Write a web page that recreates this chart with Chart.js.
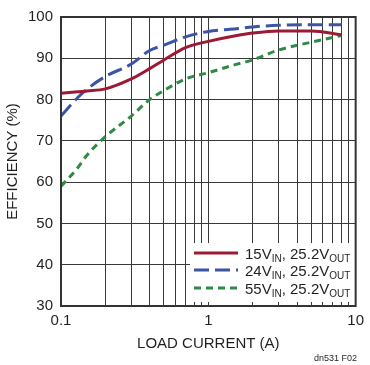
<!DOCTYPE html>
<html>
<head>
<meta charset="utf-8">
<script src="https://cdn.jsdelivr.net/npm/chart.js@4/dist/chart.umd.min.js"></script>
<style>
  html, body { margin: 0; padding: 0; background: #fff; }
  #wrap { width: 370px; height: 365px; }
</style>
</head>
<body>
<div id="wrap"><canvas id="chart" width="370" height="365"></canvas></div>
<script>
// Load current (A) sample points
var loadCurrent = [0.1, 0.13, 0.15, 0.2, 0.3, 0.4, 0.5, 0.7, 1, 1.5, 2, 3, 5, 8];

// Efficiency (%) per input voltage
var eff15V = [81.5, 81.9, 82.1, 82.6, 85.0, 87.5, 89.6, 92.6, 94.1, 95.4, 96.1, 96.6, 96.6, 95.7];
var eff24V = [76.0, 80.5, 82.5, 85.6, 88.6, 91.9, 93.2, 95.2, 96.5, 97.1, 97.6, 98.0, 98.1, 98.1];
var eff55V = [59.0, 63.5, 66.5, 71.0, 76.0, 80.0, 82.2, 85.0, 86.5, 88.4, 89.6, 92.0, 93.9, 95.5];

// Axis ticks
var xGridValues = [0.1, 0.2, 0.3, 0.4, 0.5, 0.6, 0.7, 0.8, 0.9, 1, 2, 3, 4, 5, 6, 7, 8, 9, 10];
var xLabelValues = [0.1, 1, 10];
var yTicks = [30, 40, 50, 60, 70, 80, 90, 100];

var seriesNames = ['15V', '24V', '55V'];
var seriesColors = ['#9c1a33', '#3a55a4', '#2f8a45'];
var seriesDashes = [[], [15, 6], [7, 5]];

var FONT = "'Liberation Sans Narrow', 'Liberation Sans', Arial, sans-serif";
var INK = '#231f20';

function toPoints(vals) {
    return loadCurrent.map(function(x, i) { return { x: x, y: vals[i] }; });
}

// White legend box with subscripted labels, sitting over the grid
var legendPlugin = {
    id: 'ltLegend',
    beforeDatasetsDraw: function(chart) {
        var ctx = chart.ctx;
        var a = chart.chartArea;
        ctx.save();
        ctx.fillStyle = '#fff';
        ctx.fillRect(a.left + 129, a.bottom - 63, a.right - a.left - 129, 59);

        var rowY = [a.bottom - 53, a.bottom - 36, a.bottom - 18];
        for (var i = 0; i < 3; i++) {
            var y = rowY[i];
            ctx.strokeStyle = seriesColors[i];
            ctx.lineWidth = 3;
            ctx.setLineDash(seriesDashes[i]);
            ctx.beginPath();
            ctx.moveTo(a.left + 133, y);
            ctx.lineTo(a.left + 177, y);
            ctx.stroke();
            ctx.setLineDash([]);

            ctx.fillStyle = INK;
            ctx.textBaseline = 'alphabetic';
            ctx.textAlign = 'left';
            var tx = a.left + 184;
            var base = y + 6;
            var parts = [
                [seriesNames[i], 15, 0],
                ['IN', 10, 3],
                [', 25.2V', 15, 0],
                ['OUT', 10, 3]
            ];
            parts.forEach(function(p) {
                ctx.font = p[1] + 'px ' + FONT;
                ctx.fillText(p[0], tx, base + p[2]);
                tx += ctx.measureText(p[0]).width;
            });
        }
        ctx.restore();
    },
    afterDraw: function(chart) {
        var ctx = chart.ctx;
        var a = chart.chartArea;
        ctx.save();
        ctx.strokeStyle = '#333';
        ctx.lineWidth = 2;
        ctx.strokeRect(a.left, a.top, a.right - a.left, a.bottom - a.top);
        ctx.fillStyle = INK;
        ctx.font = '9px ' + FONT;
        ctx.textAlign = 'right';
        ctx.textBaseline = 'middle';
        ctx.fillText('dn531 F02', 357, 359);
        ctx.restore();
    }
};

new Chart(document.getElementById('chart').getContext('2d'), {
    type: 'line',
    data: {
        datasets: [0, 1, 2].map(function(i) {
            return {
                label: seriesNames[i],
                data: toPoints([eff15V, eff24V, eff55V][i]),
                borderColor: seriesColors[i],
                borderWidth: 3,
                borderDash: seriesDashes[i],
                pointRadius: 0,
                fill: false,
                cubicInterpolationMode: 'monotone'
            };
        })
    },
    options: {
        responsive: false,
        animation: false,
        layout: { padding: { top: 11, right: 13, left: 0, bottom: 0 } },
        plugins: {
            legend: { display: false },
            tooltip: { enabled: false }
        },
        scales: {
            x: {
                type: 'logarithmic',
                min: 0.1,
                max: 10,
                afterBuildTicks: function(scale) {
                    scale.ticks = xGridValues.map(function(v) { return { value: v }; });
                },
                afterFit: function(scale) { scale.height = 59; },
                ticks: {
                    autoSkip: false,
                    maxRotation: 0,
                    padding: 6,
                    color: INK,
                    font: { family: FONT, size: 15 },
                    callback: function(v) {
                        return xLabelValues.indexOf(v) >= 0 ? String(v) : '';
                    }
                },
                grid: { color: '#3a3a3a', lineWidth: 1, drawTicks: false },
                border: { display: false },
                title: {
                    display: true,
                    text: 'LOAD CURRENT (A)',
                    color: INK,
                    font: { family: FONT, size: 15 },
                    padding: { top: 0, bottom: 12 }
                }
            },
            y: {
                min: 30,
                max: 100,
                afterBuildTicks: function(scale) {
                    scale.ticks = yTicks.map(function(v) { return { value: v }; });
                },
                afterFit: function(scale) { scale.width = 61; },
                ticks: {
                    padding: 8,
                    color: INK,
                    font: { family: FONT, size: 15 }
                },
                grid: { color: '#3a3a3a', lineWidth: 1, drawTicks: false },
                border: { display: false },
                title: {
                    display: true,
                    text: 'EFFICIENCY (%)',
                    color: INK,
                    font: { family: FONT, size: 15 },
                    padding: { top: 4, bottom: 4 }
                }
            }
        }
    },
    plugins: [legendPlugin]
});
</script>
</body>
</html>
